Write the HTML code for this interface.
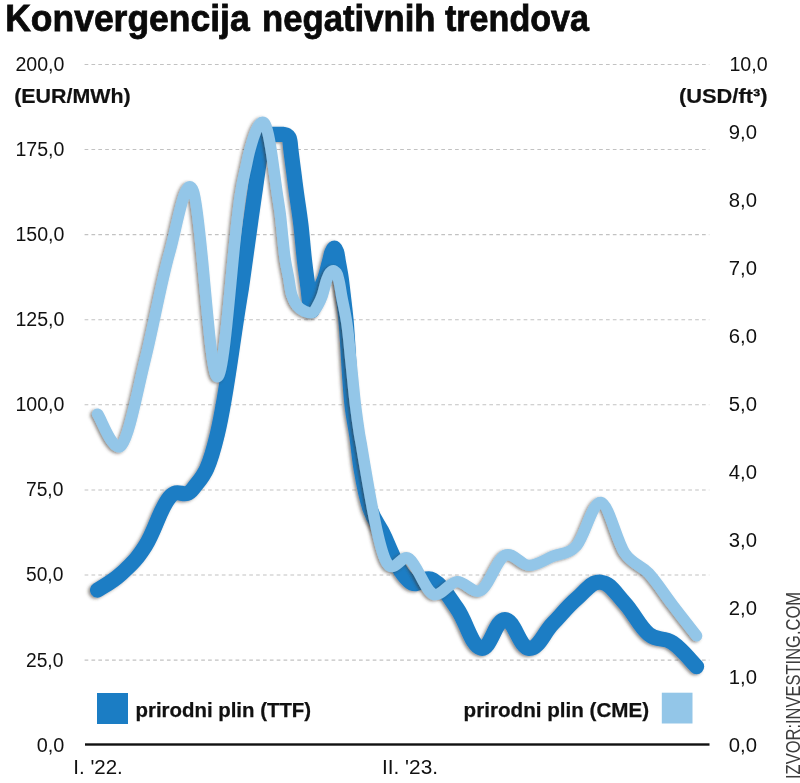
<!DOCTYPE html>
<html lang="hr"><head><meta charset="utf-8"><title>Konvergencija negativnih trendova</title>
<style>
html,body{margin:0;padding:0;background:#fff;}
body{width:800px;height:783px;overflow:hidden;font-family:"Liberation Sans",sans-serif;}
svg{display:block;font-family:"Liberation Sans",sans-serif;}
.ax text{font-size:20px;fill:#111;}
.b{font-weight:bold;}
.grid line{stroke:#c2c2c2;stroke-width:1.05;stroke-dasharray:3.7 3.16;}
</style></head><body>
<svg width="800" height="783" viewBox="0 0 800 783">
<defs>
<filter id="sh" x="-5%" y="-5%" width="110%" height="110%"><feDropShadow dx="-1.9" dy="1.1" stdDeviation="1.5" flood-color="#3a3532" flood-opacity="0.55"/></filter>
</defs>
<rect width="800" height="783" fill="#fff"/>
<g class="b" font-size="37.5" fill="#0a0a0a" stroke="#0a0a0a" stroke-width="0.8">
<text x="5.2" y="30.6" textLength="244.5" lengthAdjust="spacingAndGlyphs">Konvergencija</text>
<text x="262" y="30.6" textLength="173.5" lengthAdjust="spacingAndGlyphs">negativnih</text>
<text x="445" y="30.6" textLength="144" lengthAdjust="spacingAndGlyphs">trendova</text>
</g>
<g class="grid">
<line x1="84.6" x2="709.3" y1="660.1" y2="660.1"/>
<line x1="84.6" x2="709.3" y1="575.0" y2="575.0"/>
<line x1="84.6" x2="709.3" y1="489.9" y2="489.9"/>
<line x1="84.6" x2="709.3" y1="404.8" y2="404.8"/>
<line x1="84.6" x2="709.3" y1="319.7" y2="319.7"/>
<line x1="84.6" x2="709.3" y1="234.6" y2="234.6"/>
<line x1="84.6" x2="709.3" y1="149.5" y2="149.5"/>
<line x1="84.6" x2="709.3" y1="64.4" y2="64.4"/>
</g>
<g class="ax">
<text x="36.8" y="751.6" textLength="27.6" lengthAdjust="spacingAndGlyphs">0,0</text>
<text x="26.0" y="666.5" textLength="37.4" lengthAdjust="spacingAndGlyphs">25,0</text>
<text x="26.0" y="581.4" textLength="37.4" lengthAdjust="spacingAndGlyphs">50,0</text>
<text x="26.0" y="496.3" textLength="37.4" lengthAdjust="spacingAndGlyphs">75,0</text>
<text x="15.4" y="411.2" textLength="49" lengthAdjust="spacingAndGlyphs">100,0</text>
<text x="15.4" y="326.1" textLength="49" lengthAdjust="spacingAndGlyphs">125,0</text>
<text x="15.4" y="241.0" textLength="49" lengthAdjust="spacingAndGlyphs">150,0</text>
<text x="15.4" y="155.9" textLength="49" lengthAdjust="spacingAndGlyphs">175,0</text>
<text x="15.4" y="70.8" textLength="49" lengthAdjust="spacingAndGlyphs">200,0</text>
<text x="728.8" y="751.6" textLength="28.2" lengthAdjust="spacingAndGlyphs">0,0</text>
<text x="728.8" y="683.5" textLength="28.2" lengthAdjust="spacingAndGlyphs">1,0</text>
<text x="728.8" y="615.4" textLength="28.2" lengthAdjust="spacingAndGlyphs">2,0</text>
<text x="728.8" y="547.3" textLength="28.2" lengthAdjust="spacingAndGlyphs">3,0</text>
<text x="728.8" y="479.2" textLength="28.2" lengthAdjust="spacingAndGlyphs">4,0</text>
<text x="728.8" y="411.1" textLength="28.2" lengthAdjust="spacingAndGlyphs">5,0</text>
<text x="728.8" y="343.0" textLength="28.2" lengthAdjust="spacingAndGlyphs">6,0</text>
<text x="728.8" y="274.9" textLength="28.2" lengthAdjust="spacingAndGlyphs">7,0</text>
<text x="728.8" y="206.8" textLength="28.2" lengthAdjust="spacingAndGlyphs">8,0</text>
<text x="728.8" y="138.7" textLength="28.2" lengthAdjust="spacingAndGlyphs">9,0</text>
<text x="729.4" y="70.6" textLength="38.2" lengthAdjust="spacingAndGlyphs">10,0</text>
</g>
<text class="b" x="14.2" y="103.4" font-size="20.3" textLength="116.5" stroke="#111" stroke-width="0.2" lengthAdjust="spacingAndGlyphs" fill="#111">(EUR/MWh)</text>
<text class="b" x="679" y="103.4" font-size="20.3" textLength="88.5" stroke="#111" stroke-width="0.2" lengthAdjust="spacingAndGlyphs" fill="#111">(USD/ft³)</text>
<g fill="none" stroke-linecap="round" stroke-linejoin="round">
<path d="M97.6,590.1 C102.4,586.8 112.0,582.3 121.6,573.4 C131.1,564.5 135.9,560.8 145.5,545.6 C155.1,530.4 159.9,508.9 169.5,497.4 C179.1,485.9 183.9,501.0 193.4,488.3 C203.0,475.6 207.8,474.0 217.4,434.0 C227.0,394.0 231.8,344.7 241.4,288.3 C244.1,269.6 248.3,238.1 250.9,220.0 C252.6,208.0 253.8,199.5 255.2,190.0 C256.4,181.3 257.6,172.4 258.7,165.0 C259.5,159.1 260.2,153.6 261.0,149.0 C261.6,145.6 262.0,142.4 262.8,140.0 C263.4,138.2 263.9,136.5 265.0,135.6 C265.9,134.8 267.1,134.7 268.5,134.5 C270.7,134.1 274.4,134.4 277.0,134.4 C279.3,134.4 281.5,134.2 283.3,134.4 C284.6,134.6 285.8,134.7 286.8,135.3 C287.7,135.8 288.4,136.6 288.9,137.5 C289.5,138.5 289.6,139.6 289.9,141.0 C290.3,143.1 290.4,145.7 290.8,149.2 C291.5,155.4 293.1,167.3 294.1,175.0 C294.9,181.3 295.4,185.4 296.3,192.0 C297.5,201.2 299.6,213.8 300.9,225.0 C302.3,236.7 303.2,249.6 304.5,260.7 C305.6,270.3 307.0,279.9 308.0,287.6 C308.7,293.4 309.0,298.8 309.8,303.0 C310.4,306.0 311.0,310.4 311.8,310.5 C312.6,310.6 313.5,306.5 314.5,304.0 C315.8,300.6 317.3,296.1 319.0,292.0 C320.8,287.5 323.3,282.9 325.0,278.0 C326.8,272.8 328.2,266.2 329.5,261.5 C330.5,257.9 331.0,254.4 332.0,252.0 C332.7,250.4 333.6,248.2 334.4,248.2 C335.2,248.2 336.0,250.4 336.6,252.0 C337.4,254.3 337.6,257.6 338.2,261.0 C339.0,265.6 340.2,271.5 341.0,277.0 C341.9,282.8 342.4,288.5 343.2,295.0 C344.1,302.6 345.0,309.2 346.0,320.0 C347.8,339.8 349.6,383.5 352.0,404.6 C353.4,417.3 355.2,424.5 356.7,435.0 C358.3,446.2 359.4,458.9 361.2,469.6 C370.7,525.6 375.5,515.7 385.1,538.0 C394.7,560.3 399.5,572.6 409.1,581.0 C418.7,589.4 423.5,574.5 433.0,580.0 C442.6,585.5 447.4,594.9 457.0,608.5 C466.6,622.1 471.4,646.0 481.0,648.2 C490.5,650.4 495.3,619.6 504.9,619.6 C514.5,619.6 519.3,647.6 528.9,648.4 C538.5,649.2 543.3,633.6 552.8,623.6 C562.4,613.6 567.2,606.9 576.8,598.6 C586.4,590.3 591.2,581.3 600.8,582.2 C610.3,583.1 615.1,592.7 624.7,603.1 C634.3,613.5 639.1,626.2 648.7,634.1 C658.3,642.0 663.1,636.3 672.6,642.8 C682.2,649.3 691.8,661.8 696.6,666.6" stroke="#1b7dc4" stroke-width="15.2" filter="url(#sh)"/>
<path d="M97.6,414.1 C101.6,419.3 113.6,454.5 121.6,445.2 C129.5,435.9 137.5,390.5 145.5,358.5 C153.5,326.5 161.5,281.1 169.5,253.2 C177.5,225.3 185.5,170.6 193.4,191.2 C201.4,211.8 209.4,377.1 217.4,376.7 C225.4,376.3 233.4,229.8 241.4,189.0 C242.8,180.5 244.7,173.0 246.2,166.0 C247.5,160.0 248.4,155.0 250.0,149.3 C251.7,143.1 254.3,134.5 256.3,130.0 C257.5,127.3 258.5,125.3 259.8,124.0 C260.7,123.1 261.6,122.3 262.5,122.3 C263.4,122.3 264.3,123.0 265.0,124.0 C266.3,125.7 267.0,129.5 267.9,133.0 C269.1,137.6 269.9,142.6 271.0,149.3 C272.8,160.2 275.3,180.0 277.0,192.0 C278.3,200.8 279.5,207.6 280.4,215.0 C281.2,221.8 281.7,227.6 282.4,234.5 C283.3,242.4 284.1,252.3 285.3,260.0 C286.3,266.5 287.6,272.0 288.7,278.0 C289.8,283.9 290.3,290.8 292.0,295.7 C293.3,299.6 294.8,302.9 297.0,305.5 C298.9,307.9 301.4,309.8 304.0,311.0 C306.5,312.1 309.7,313.5 312.0,312.7 C314.5,311.8 316.3,307.8 318.0,305.0 C319.7,302.1 320.9,299.3 322.2,295.7 C323.9,291.1 325.2,283.7 326.8,279.5 C327.8,276.7 328.7,274.3 330.0,272.8 C331.0,271.7 332.2,270.6 333.3,270.6 C334.4,270.6 335.6,271.8 336.5,273.0 C337.8,274.8 338.2,277.9 339.0,281.0 C340.0,285.1 340.6,290.1 341.6,295.7 C343.0,303.4 345.3,313.1 346.8,323.0 C348.6,334.8 349.6,348.7 351.0,362.0 C352.5,375.9 353.9,391.8 355.4,404.6 C356.7,415.0 358.2,425.8 359.3,433.0 C360.0,437.4 360.4,439.2 361.2,443.6 C369.1,491.0 377.1,540.1 385.1,559.3 C393.1,578.5 401.1,552.9 409.1,558.7 C417.1,564.5 425.1,590.2 433.0,594.0 C441.0,597.8 449.0,582.2 457.0,581.6 C465.0,581.0 473.0,594.7 481.0,590.3 C488.9,585.9 496.9,559.5 504.9,555.4 C512.9,551.2 520.9,565.2 528.9,565.4 C536.9,565.5 544.9,559.6 552.8,556.3 C560.8,553.0 568.8,554.5 576.8,545.5 C584.8,536.5 592.8,501.2 600.8,502.4 C608.7,503.6 616.7,541.1 624.7,552.9 C632.7,564.7 640.7,564.5 648.7,573.2 C656.7,581.9 664.7,594.5 672.6,604.9 C680.6,615.3 692.6,630.6 696.6,635.7" stroke="#93c6e8" stroke-width="11.4" filter="url(#sh)"/>
</g>
<rect x="85" y="743.3" width="624.5" height="2.4" fill="#111"/>
<rect x="97" y="693" width="31" height="31" fill="#1b7dc4"/>
<rect x="661.8" y="692.7" width="30.7" height="30.8" fill="#93c6e8"/>
<text class="b" x="135.5" y="716.9" font-size="20.6" textLength="175.6" stroke="#111" stroke-width="0.25" lengthAdjust="spacingAndGlyphs" fill="#111">prirodni plin (TTF)</text>
<text class="b" x="463.6" y="716.9" font-size="20.6" textLength="185.5" stroke="#111" stroke-width="0.25" lengthAdjust="spacingAndGlyphs" fill="#111">prirodni plin (CME)</text>
<g class="ax">
<text x="73.3" y="774" textLength="49.5" lengthAdjust="spacingAndGlyphs">I. '22.</text>
<text x="382" y="774" textLength="56" lengthAdjust="spacingAndGlyphs">II. '23.</text>
</g>
<text transform="translate(799.6,779) rotate(-90)" font-size="21" fill="#3c3c3c" textLength="187" lengthAdjust="spacingAndGlyphs">IZVOR:INVESTING.COM</text>
</svg>
</body></html>
